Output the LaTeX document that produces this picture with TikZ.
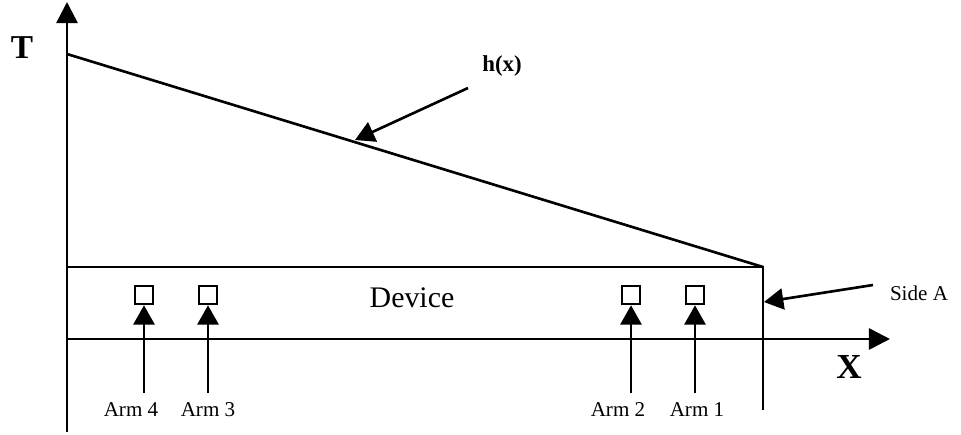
\documentclass[tikz,border=0pt]{standalone}
\usepackage{fontspec}
\setmainfont{Liberation Serif}
\usetikzlibrary{arrows.meta,positioning}

\begin{document}
\begin{tikzpicture}[x=0.02cm, y=-0.02cm, line width=1.5pt,
    every node/.style={align=center, inner sep=0pt},
    axistip/.style={-{Triangle[length=12pt, width=12pt]}},
    pointer/.style={-{Triangle[length=11pt, width=12pt]}},
    sensor/.style={draw, line width=1.2pt, minimum size=10.5pt},
    armlabel/.style={font=\fontsize{12}{14}\selectfont}]
  \useasboundingbox (0,0) rectangle (961,434);
  % Axes
  \coordinate (origin) at (67,339);
  \coordinate (ybot) at (67,432);
  \coordinate (ytop) at (67,2);
  \coordinate (xend) at (890,339);
  \draw[axistip] (ybot) -- (ytop);
  \draw[axistip] (origin) -- (xend);
  \node[font=\bfseries\fontsize{19}{21}\selectfont] (tlabel) at (22,48) {T};
  \node[font=\bfseries\fontsize{20}{22}\selectfont] (xlabel) at (849,367) {X};
  % Temperature profile and device
  \coordinate (hstart) at (67,54);
  \coordinate (boxleft) at (67,267);
  \coordinate (corner) at (763,267);
  \coordinate (sidebot) at (763,410);
  \draw (hstart) -- (corner);
  \draw (boxleft) -- (corner) -- (sidebot);
  \node[font=\fontsize{17}{19}\selectfont] (device) at (412,298) {Device};
  % Sensors
  \node[sensor] (sq4) at (144,295) {};
  \node[sensor] (sq3) at (208,295) {};
  \node[sensor] (sq2) at (631,295) {};
  \node[sensor] (sq1) at (695,295) {};
  \coordinate (tail4) at (144,393);
  \coordinate (tail3) at (208,393);
  \coordinate (tail2) at (631,393);
  \coordinate (tail1) at (695,393);
  \node[armlabel] (arm4) at (131,410) {Arm 4};
  \node[armlabel] (arm3) at (208,410) {Arm 3};
  \node[armlabel] (arm2) at (618,410) {Arm 2};
  \node[armlabel] (arm1) at (697,410) {Arm 1};
  \foreach \i in {1,...,4}
    \draw[pointer] (tail\i) -- (sq\i.south);
  % Labels with pointers
  \node[font=\bfseries\fontsize{13}{15}\selectfont] (hlabel) at (502,66) {h(x)};
  \coordinate (htail) at (468,88);
  \coordinate (htip) at (355,140);
  \draw[pointer] (htail) -- (htip);
  \node[font=\fontsize{12}{14}\selectfont] (sidelabel) at (919,293) {Side A};
  \coordinate (sidetail) at (873,285);
  \coordinate (sidetip) at (764,302);
  \draw[pointer] (sidetail) -- (sidetip);
\end{tikzpicture}
\end{document}
